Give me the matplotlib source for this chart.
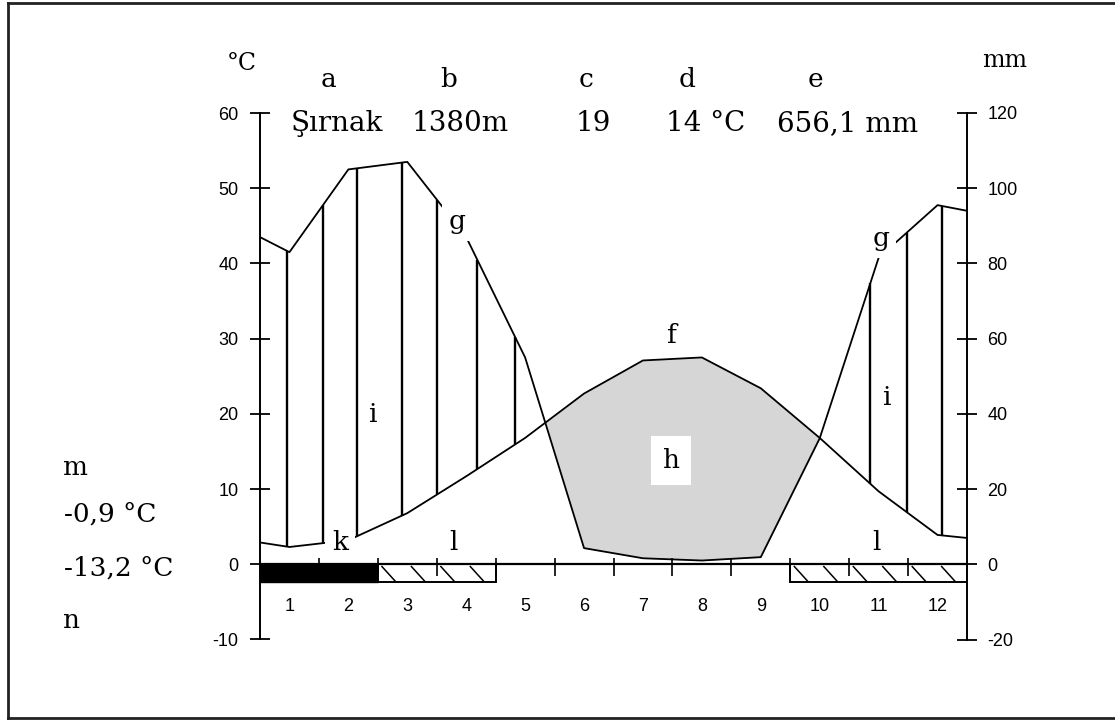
import matplotlib
matplotlib.use("Agg")
import numpy as np
import matplotlib.pyplot as plt
from matplotlib.patches import Rectangle
from matplotlib.lines import Line2D

plt.rcParams["axes.unicode_minus"] = False

# ---------------- data ----------------
months = [1, 2, 3, 4, 5, 6, 7, 8, 9, 10, 11, 12]
month_labels = ["1", "2", "3", "4", "5", "6", "7", "8", "9", "10", "11", "12"]
temp_c = [2.3, 3.2, 6.8, 11.7, 16.8, 22.7, 27.1, 27.5, 23.4, 16.8, 9.7, 3.9]
precip_mm = [83, 105, 107, 87, 55, 4.3, 1.6, 1.0, 1.9, 33.5, 81.5, 95.5]
edge_x = [0.5, 12.5]
temp_edge = [2.9, 3.5]
precip_edge = [87, 94]
frost_sure = [1, 2]
frost_possible = [3, 4, 10, 11, 12]
hatch_x = [0.96, 1.57, 2.15, 2.91, 3.51, 4.19, 4.83, 10.86, 11.48, 12.08]
left_ticks = [-10, 0, 10, 20, 30, 40, 50, 60]
right_ticks = [-20, 0, 20, 40, 60, 80, 100, 120]

station = "Şırnak"
altitude = "1380m"
years = "19"
mean_temp = "14 °C"
total_precip = "656,1 mm"
mean_min = "-0,9 °C"
abs_min = "-13,2 °C"

# ---------------- figure ----------------
W, H = 1115, 720
fig = plt.figure(figsize=(W / 100, H / 100), dpi=100)
fig.patch.set_facecolor("white")
ax = fig.add_axes([260 / W, 1 - 639.5 / H, 707 / W, (639.5 - 113) / H])
ax.set_xlim(0.5, 12.5)
ax.set_ylim(-10, 60)
ax2 = ax.twinx()
ax2.set_ylim(-20, 120)

SANS = ["Liberation Sans", "DejaVu Sans"]
SERIF = ["DejaVu Serif"]

for a in (ax, ax2):
    for s in ("top", "bottom"):
        a.spines[s].set_visible(False)
ax.spines["right"].set_visible(False)
ax2.spines["left"].set_visible(False)
ax.spines["left"].set_linewidth(1.4)
ax2.spines["right"].set_linewidth(1.4)
ax.set_xticks([])
ax2.set_xticks([])
ax.set_yticks(left_ticks)
ax2.set_yticks(right_ticks)
ax.tick_params(axis="y", direction="inout", length=15, width=1.3, pad=8, labelsize=13)
ax2.tick_params(axis="y", direction="inout", length=15, width=1.3, pad=7, labelsize=13)
for lab in ax.get_yticklabels() + ax2.get_yticklabels():
    lab.set_fontfamily(SANS)

# curves (precipitation plotted on the temperature scale: 10 °C = 20 mm)
x = np.array([edge_x[0]] + months + [edge_x[1]], dtype=float)
T = np.array([temp_edge[0]] + temp_c + [temp_edge[1]], dtype=float)
P = np.array([precip_edge[0]] + precip_mm + [precip_edge[1]], dtype=float) / 2.0

xf = np.linspace(0.5, 12.5, 4801)
Tf = np.interp(xf, x, T)
Pf = np.interp(xf, x, P)
ax.fill_between(xf, Tf, Pf, where=Tf >= Pf, interpolate=True,
                color="#d6d6d6", lw=0, zorder=1)
ax.plot(x, T, color="black", lw=1.3, zorder=3)
ax.plot(x, P, color="black", lw=1.3, zorder=3)

# humid period vertical hatch lines
for h in hatch_x:
    ax.vlines(h, np.interp(h, x, T), np.interp(h, x, P), color="black", lw=1.7, zorder=2)

# frost bars
bar_h = 2.4
for m in frost_sure:
    ax.add_patch(Rectangle((m - 0.5, -bar_h), 1, bar_h, fc="black", ec="black", lw=1, zorder=4))
runs = []
for m in frost_possible:
    if runs and runs[-1][1] == m - 1:
        runs[-1][1] = m
    else:
        runs.append([m, m])
for a0, b0 in runs:
    left, right = a0 - 0.5, b0 + 0.5
    ax.add_patch(Rectangle((left, -bar_h), right - left, bar_h, fc="white", ec="black", lw=1.4, zorder=4))
    for s in np.arange(left + 0.07, right - 0.2, 0.5):
        ax.plot([s, s + 0.22], [-0.3, -bar_h + 0.2], color="black", lw=1.1, zorder=5)

# zero line and month ticks
ax.plot([0.5, 12.5], [0, 0], color="black", lw=1.6, zorder=6)
ax.vlines(np.arange(1.5, 12.5, 1.0), -1.6, 0.9, color="black", lw=1.2, zorder=6)
for m, lab in zip(months, month_labels):
    ax.text(m, -5.6, lab, ha="center", va="center", fontsize=13, family=SANS)

# ---------------- text labels ----------------
def ftext(px, py, s, size=19, ha="center", va="baseline", box=False, **kw):
    t = fig.text(px / W, 1 - py / H, s, fontsize=size, ha=ha, va=va, family=SERIF, **kw)
    if box:
        t.set_bbox(dict(facecolor="white", edgecolor="none", boxstyle="square,pad=0.25"))
    return t

ftext(242, 70, "°C", size=17)
ftext(1005, 67, "mm", size=17)
for px, s in [(328, "a"), (449, "b"), (586, "c"), (687, "d"), (815, "e")]:
    ftext(px, 87, s)
for px, s in [(337, station), (460, altitude), (593, years), (706, mean_temp), (848, total_precip)]:
    ftext(px, 131, s, size=20)

ftext(63, 475, "m", ha="left")
ftext(64, 522, mean_min, ha="left")
ftext(64, 576, abs_min, ha="left")
ftext(63, 628, "n", ha="left")

ftext(457, 229, "g", box=True)
ftext(881, 246, "g", box=True)
ftext(672, 343, "f")
ftext(373, 422, "i")
ftext(887, 405, "i")
ftext(340, 550, "k", box=True)
ftext(453, 550, "l")
ftext(876, 550, "l")
t = ftext(671, 468, "h")
t.set_bbox(dict(facecolor="white", edgecolor="none", boxstyle="square,pad=0.45"))

# outer frame
for xs, ys in [((8, 8), (3, 718)), ((8, W), (3, 3)), ((8, W), (718, 718))]:
    fig.add_artist(Line2D([v / W for v in xs], [1 - v / H for v in ys], color="#222222", lw=2))

fig.savefig("out.png", dpi=100, facecolor="white")
